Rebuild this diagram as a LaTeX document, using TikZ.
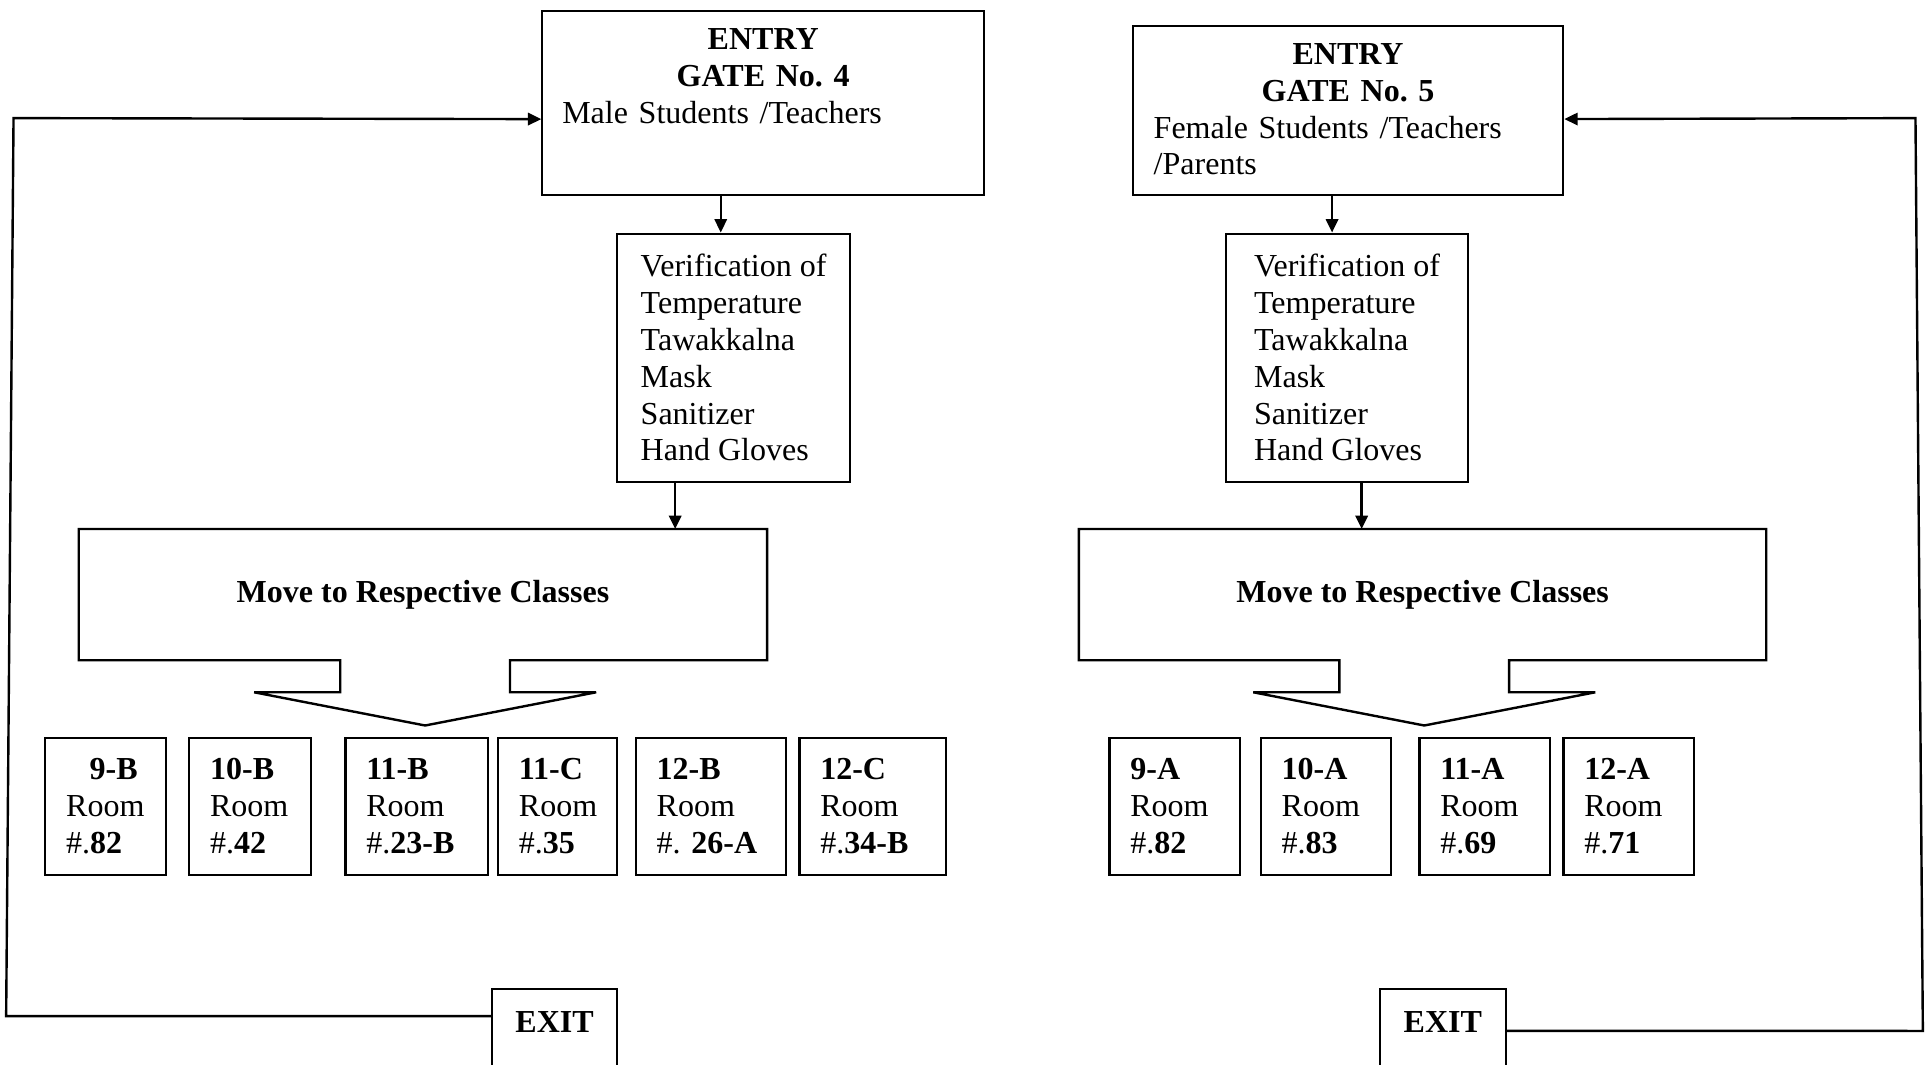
\documentclass[tikz,border=0pt]{standalone}
\usepackage{fontspec}
\setmainfont{Liberation Serif}
\usetikzlibrary{arrows.meta}
\frenchspacing

\newcommand{\docfont}{\fontsize{12}{13.8}\selectfont}

\tikzset{
    box/.style={draw, line width=0.8pt, anchor=north west, inner sep=0pt},
    gatetext/.style={anchor=north, inner sep=0pt,
        execute at begin node={\setlength{\parindent}{0pt}}},
    checkbox/.style={box, align=left, minimum width=#1, minimum height=93.1pt},
    room/.style={draw, line width=0.8pt, anchor=north west, align=left,
        inner xsep=7.8pt, inner ysep=0pt, minimum height=51.2pt, text width=#1},
    exitbox/.style={draw, line width=0.8pt, anchor=north west, font={\docfont\bfseries},
        minimum width=47pt, inner ysep=8.3pt, text height=8pt, text depth=40pt},
    flow/.style={line width=0.9pt, -{Triangle[length=5pt,width=4.6pt]}},
    wire/.style={line width=0.9pt}
}

\begin{document}
\begin{tikzpicture}[x=0.0162cm, y=-0.0162cm, font=\docfont]
    \clip (0,0) rectangle (1568,865);

    % Gate 4 (left)
    \node[box, minimum width=165.5pt, minimum height=69.1pt] (g4) at (440,8) {};
    \node[gatetext, text width=150.6pt] (g4txt) at ([yshift=-6.9pt]g4.north)
        {\centering\textbf{ENTRY}\\\textbf{GATE No. 4}\par\raggedright Male Students /Teachers};

    \node[checkbox=87.1pt] (v1) at (501,189)
        {Verification of\\Temperature\\Tawakkalna\\Mask\\Sanitizer\\Hand Gloves};

    \node[box, minimum width=257.2pt, minimum height=48.4pt, draw=none,
        font={\docfont\bfseries}] (m1) at (64,430) {Move to Respective Classes};
    \draw[wire] (m1.south west) -- (m1.north west) -- (m1.north east) -- (m1.south east)
        -- ++(-209,0) -- ++(0,26) -- ++(70,0) -- ++(-139,27) -- ++(-139,-27)
        -- ++(70,0) -- ++(0,-26) -- cycle;

    % Rooms (left)
    \foreach \x/\w/\c/\r [count=\i] in {36/29.5pt/\hspace*{8.8pt}9-B/82, 153/30pt/10-B/42,
            280/37.8pt/11-B/23-B, 404/29pt/11-C/35, 516/40.6pt/12-B/\ 26-A, 649/39.2pt/12-C/34-B} {
        \node[room=\w] (rb\i) at (\x,599) {\textbf{\c}\\Room\\\#.\textbf{\r}};
    }

    \node[exitbox] (x4) at (399,803) {EXIT};

    \draw[flow] ([xshift=-15.9pt]g4.south) -- ([xshift=-15.9pt]g4.south |- v1.north);
    \draw[flow] ([xshift=-21.9pt]v1.south) -- ([xshift=-21.9pt]v1.south |- m1.north);

    \coordinate (lb) at (5,826);
    \coordinate (lt) at (11,96);
    \draw[flow] ([yshift=-10.6pt]x4.north west) -- (lb) -- (lt) -- ([yshift=-6pt]g4.west);

    % Gate 5 (right)
    \node[box, minimum width=161.3pt, minimum height=63.6pt] (g5) at (920,20) {};
    \node[gatetext, text width=145.7pt] (g5txt) at ([yshift=-6.9pt]g5.north)
        {\centering\textbf{ENTRY}\\\textbf{GATE No. 5}\par\raggedright Female Students /Teachers\\/Parents};

    \node[checkbox=90.4pt] (v2) at (996,189)
        {Verification of\\Temperature\\Tawakkalna\\Mask\\Sanitizer\\Hand Gloves};

    \node[box, minimum width=256.8pt, minimum height=48.4pt, draw=none,
        font={\docfont\bfseries}] (m2) at (877,430) {Move to Respective Classes};
    \draw[wire] (m2.south west) -- (m2.north west) -- (m2.north east) -- (m2.south east)
        -- ++(-209,0) -- ++(0,26) -- ++(70,0) -- ++(-139,27) -- ++(-139,-27)
        -- ++(70,0) -- ++(0,-26) -- cycle;

    % Rooms (right)
    \foreach \x/\c/\r [count=\i] in {901/9-A/82, 1024/10-A/83, 1153/11-A/69, 1270/12-A/71} {
        \node[room=33.2pt] (ra\i) at (\x,599) {\textbf{\c}\\Room\\\#.\textbf{\r}};
    }

    \node[exitbox] (x5) at (1121,803) {EXIT};

    \draw[flow] ([xshift=-6pt]g5.south) -- ([xshift=-6pt]g5.south |- v2.north);
    \draw[flow] ([xshift=5.5pt]v2.south) -- ([xshift=5.5pt]v2.south |- m2.north);

    \coordinate (rb) at (1563,838);
    \coordinate (rt) at (1557,96);
    \draw[flow] ([yshift=-16.1pt]x5.north east) -- (rb) -- (rt) -- ([yshift=-3.2pt]g5.east);
\end{tikzpicture}
\end{document}
